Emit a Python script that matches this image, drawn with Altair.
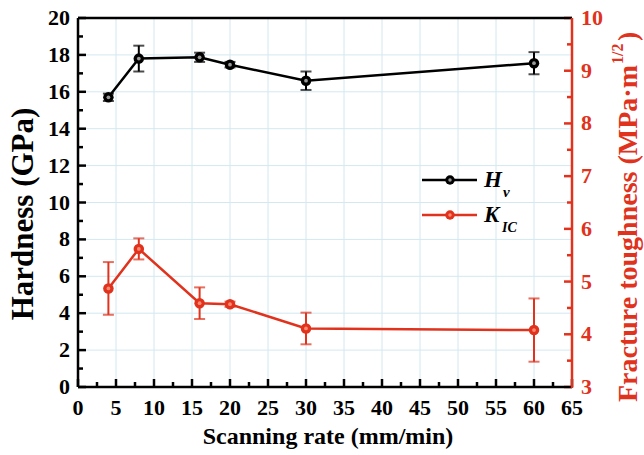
import altair as alt
import pandas as pd

# ---- data ----
rate = [4, 8, 16, 20, 30, 60]
hv = [15.7, 17.8, 17.87, 17.47, 16.6, 17.55]
hv_err = [0.2, 0.7, 0.25, 0.15, 0.5, 0.6]
kic = [4.87, 5.62, 4.59, 4.57, 4.11, 4.08]
kic_err = [0.5, 0.2, 0.3, 0.05, 0.3, 0.6]

x_major = [0, 5, 10, 15, 20, 25, 30, 35, 40, 45, 50, 55, 60, 65]
x_minor = [2.5, 7.5, 12.5, 17.5, 22.5, 27.5, 32.5, 37.5, 42.5, 47.5, 52.5, 57.5, 62.5]
hv_major = [0, 2, 4, 6, 8, 10, 12, 14, 16, 18, 20]
hv_minor = [1, 3, 5, 7, 9, 11, 13, 15, 17, 19]
kic_major = [3, 4, 5, 6, 7, 8, 9, 10]
kic_minor = [3.5, 4.5, 5.5, 6.5, 7.5, 8.5, 9.5]

x_title = "Scanning rate (mm/min)"
hv_title = "Hardness (GPa)"

RED = "#e0321c"
FONT = "Liberation Serif"
GRID = "#d3e8f0"
W, H = 494, 369

hv_df = pd.DataFrame({
    "rate": rate, "v": hv,
    "lo": [a - b for a, b in zip(hv, hv_err)],
    "hi": [a + b for a, b in zip(hv, hv_err)],
})
kic_df = pd.DataFrame({
    "rate": rate, "v": kic,
    "lo": [a - b for a, b in zip(kic, kic_err)],
    "hi": [a + b for a, b in zip(kic, kic_err)],
})

XS = alt.Scale(domain=[0, 65], nice=False)
HS = alt.Scale(domain=[0, 20], nice=False)
KS = alt.Scale(domain=[3, 10], nice=False)


def X(f):
    return alt.X(f, scale=XS, axis=None)


def tick_df(values):
    return pd.DataFrame({"t": values, "lab": [str(v) for v in values]})


def series_layer(df, color, scale, hl):
    Y = lambda f: alt.Y(f, scale=scale, axis=None)
    base = alt.Chart(df)
    return [
        base.mark_line(color=color, strokeWidth=2.5).encode(x=X("rate:Q"), y=Y("v:Q")),
        base.mark_rule(color=color, strokeWidth=2).encode(x=X("rate:Q"), y=Y("lo:Q"), y2="hi:Q"),
        base.mark_tick(color=color, thickness=2, size=11, orient="horizontal").encode(x=X("rate:Q"), y=Y("hi:Q")),
        base.mark_tick(color=color, thickness=2, size=11, orient="horizontal").encode(x=X("rate:Q"), y=Y("lo:Q")),
        base.mark_circle(color=color, size=110, opacity=1).encode(x=X("rate:Q"), y=Y("v:Q")),
        base.mark_circle(color=hl, size=14, opacity=1).encode(x=X("rate:Q"), y=Y("v:Q")),
    ]


# ---------- hardness (left) scale: grid, ticks, labels ----------
HY = lambda: alt.Y("t:Q", scale=HS, axis=None)
hv_grid = alt.Chart(tick_df(hv_major)).mark_rule(color=GRID, strokeWidth=1).encode(
    y=HY(), x=alt.value(0), x2=alt.value(W))
x_grid = alt.Chart(tick_df(x_major)).mark_rule(color=GRID, strokeWidth=1).encode(
    x=X("t:Q"), y=alt.value(0), y2=alt.value(H))
hv_tmaj = alt.Chart(tick_df(hv_major)).mark_rule(color="black", strokeWidth=2.5).encode(
    y=HY(), x=alt.value(0), x2=alt.value(8))
hv_tmin = alt.Chart(tick_df(hv_minor)).mark_rule(color="black", strokeWidth=2.5).encode(
    y=HY(), x=alt.value(0), x2=alt.value(5))
x_tmaj = alt.Chart(tick_df(x_major)).mark_rule(color="black", strokeWidth=2.5).encode(
    x=X("t:Q"), y=alt.value(H), y2=alt.value(H - 8))
x_tmin = alt.Chart(tick_df(x_minor)).mark_rule(color="black", strokeWidth=2.5).encode(
    x=X("t:Q"), y=alt.value(H), y2=alt.value(H - 5))
hv_labels = alt.Chart(tick_df(hv_major)).mark_text(
    font=FONT, fontSize=22, fontWeight="bold", color="black", align="right", baseline="middle"
).encode(y=HY(), x=alt.value(-8), text="lab:N")
x_labels = alt.Chart(tick_df(x_major)).mark_text(
    font=FONT, fontSize=22, fontWeight="bold", color="black", align="center", baseline="middle"
).encode(x=X("t:Q"), y=alt.value(H + 21), text="lab:N")

hv_layer = alt.layer(hv_grid, x_grid, hv_tmaj, hv_tmin, x_tmaj, x_tmin, hv_labels, x_labels,
                     *series_layer(hv_df, "black", HS, "#9a9a9a"))

# ---------- fracture toughness (right) scale ----------
KY = lambda: alt.Y("t:Q", scale=KS, axis=None)
k_tmaj = alt.Chart(tick_df(kic_major)).mark_rule(color=RED, strokeWidth=2.5).encode(
    y=KY(), x=alt.value(W), x2=alt.value(W - 8))
k_tmin = alt.Chart(tick_df(kic_minor)).mark_rule(color=RED, strokeWidth=2.5).encode(
    y=KY(), x=alt.value(W), x2=alt.value(W - 5))
k_labels = alt.Chart(tick_df(kic_major)).mark_text(
    font=FONT, fontSize=22, fontWeight="bold", color=RED, align="left", baseline="middle"
).encode(y=KY(), x=alt.value(W + 9), text="lab:N")
kic_layer = alt.layer(k_tmaj, k_tmin, k_labels, *series_layer(kic_df, RED, KS, "#ff8a70"))

# ---------- frame, titles and legend ----------
one = alt.Chart(pd.DataFrame({"k": [0]}))
deco = alt.layer(
    one.mark_rule(color="black", strokeWidth=2.5).encode(x=alt.value(0), x2=alt.value(W), y=alt.value(0)),
    one.mark_rule(color="black", strokeWidth=2.5).encode(x=alt.value(0), x2=alt.value(W), y=alt.value(H)),
    one.mark_rule(color="black", strokeWidth=2.5).encode(x=alt.value(0), y=alt.value(0), y2=alt.value(H)),
    one.mark_rule(color=RED, strokeWidth=2.5).encode(x=alt.value(W), y=alt.value(0), y2=alt.value(H + 1)),
    one.mark_text(text=x_title, font=FONT, fontSize=24, fontWeight="bold", color="black",
                  align="center", baseline="middle").encode(x=alt.value(250), y=alt.value(H + 50)),
    one.mark_text(text=hv_title, font=FONT, fontSize=31, fontWeight="bold", color="black",
                  angle=270, align="center", baseline="middle").encode(x=alt.value(-54), y=alt.value(196)),
    one.mark_rule(color="black", strokeWidth=2.5).encode(x=alt.value(344), x2=alt.value(399), y=alt.value(162)),
    one.mark_circle(color="black", size=90, opacity=1).encode(x=alt.value(372), y=alt.value(162)),
    one.mark_circle(color="#9a9a9a", size=12, opacity=1).encode(x=alt.value(372), y=alt.value(162)),
    one.mark_text(text="H", font=FONT, fontSize=23, fontWeight="bold", fontStyle="italic",
                  align="left", baseline="middle").encode(x=alt.value(406), y=alt.value(162)),
    one.mark_text(text="v", font=FONT, fontSize=15, fontWeight="bold", fontStyle="italic",
                  align="left", baseline="middle").encode(x=alt.value(425), y=alt.value(174)),
    one.mark_rule(color=RED, strokeWidth=2.5).encode(x=alt.value(344), x2=alt.value(399), y=alt.value(197)),
    one.mark_circle(color=RED, size=90, opacity=1).encode(x=alt.value(372), y=alt.value(197)),
    one.mark_circle(color="#ff8a70", size=12, opacity=1).encode(x=alt.value(372), y=alt.value(197)),
    one.mark_text(text="K", font=FONT, fontSize=23, fontWeight="bold", fontStyle="italic",
                  align="left", baseline="middle").encode(x=alt.value(406), y=alt.value(197)),
    one.mark_text(text="IC", font=FONT, fontSize=14, fontWeight="bold", fontStyle="italic",
                  align="left", baseline="middle").encode(x=alt.value(424), y=alt.value(210)),
    one.mark_text(text="Fracture toughness (MPa·m", font=FONT, fontSize=28, fontWeight="bold",
                  color=RED, angle=270, align="right", baseline="middle").encode(x=alt.value(551), y=alt.value(47)),
    one.mark_text(text="1/2", font=FONT, fontSize=16, fontWeight="bold",
                  color=RED, angle=270, align="left", baseline="middle").encode(x=alt.value(540), y=alt.value(46)),
    one.mark_text(text=")", font=FONT, fontSize=28, fontWeight="bold",
                  color=RED, angle=270, align="left", baseline="middle").encode(x=alt.value(551), y=alt.value(23)),
)

chart = alt.layer(hv_layer, kic_layer, deco).resolve_scale(y="independent").properties(
    width=W, height=H,
    autosize=alt.AutoSizeParams(type="none"),
    padding={"left": 78, "top": 18, "right": 72, "bottom": 68},
).configure_view(stroke=None)

chart.save("out.html", embed_options={"renderer": "svg", "actions": False})
